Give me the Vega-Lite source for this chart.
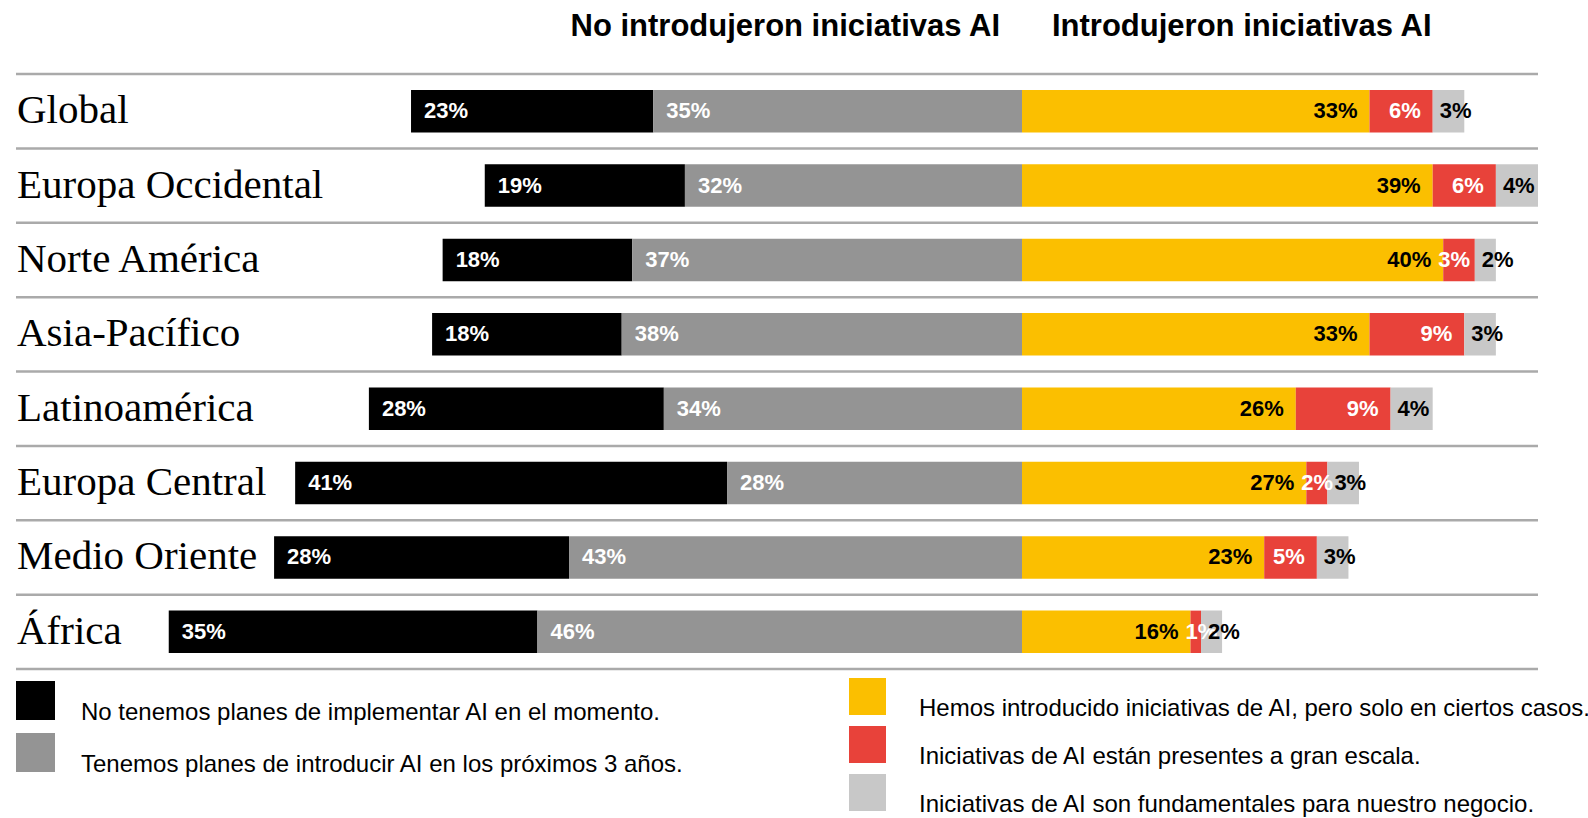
{
  "$schema": "https://vega.github.io/schema/vega-lite/v6.json",
  "padding": {"left": 14, "top": 10, "right": 0, "bottom": 0},
  "autosize": {"type": "pad"},
  "bounds": "flush",
  "background": "white",
  "config": {
    "view": {"stroke": null},
    "concat": {"spacing": 0},
    "title": {"font": "Liberation Sans", "fontSize": 31, "fontWeight": "bold", "color": "#000000", "baseline": "alphabetic", "offset": 30, "frame": "group"}
  },
  "datasets": {
    "d": [
      {"region": "Global", "lado": "izq", "serie": "No tenemos planes de implementar AI en el momento.", "orden": 2, "pct": 0.23},
      {"region": "Global", "lado": "izq", "serie": "Tenemos planes de introducir AI en los próximos 3 años.", "orden": 1, "pct": 0.35},
      {"region": "Global", "lado": "der", "serie": "Hemos introducido iniciativas de AI, pero solo en ciertos casos.", "orden": 3, "pct": 0.33},
      {"region": "Global", "lado": "der", "serie": "Iniciativas de AI están presentes a gran escala.", "orden": 4, "pct": 0.06},
      {"region": "Global", "lado": "der", "serie": "Iniciativas de AI son fundamentales para nuestro negocio.", "orden": 5, "pct": 0.03},
      {"region": "Europa Occidental", "lado": "izq", "serie": "No tenemos planes de implementar AI en el momento.", "orden": 2, "pct": 0.19},
      {"region": "Europa Occidental", "lado": "izq", "serie": "Tenemos planes de introducir AI en los próximos 3 años.", "orden": 1, "pct": 0.32},
      {"region": "Europa Occidental", "lado": "der", "serie": "Hemos introducido iniciativas de AI, pero solo en ciertos casos.", "orden": 3, "pct": 0.39},
      {"region": "Europa Occidental", "lado": "der", "serie": "Iniciativas de AI están presentes a gran escala.", "orden": 4, "pct": 0.06},
      {"region": "Europa Occidental", "lado": "der", "serie": "Iniciativas de AI son fundamentales para nuestro negocio.", "orden": 5, "pct": 0.04},
      {"region": "Norte América", "lado": "izq", "serie": "No tenemos planes de implementar AI en el momento.", "orden": 2, "pct": 0.18},
      {"region": "Norte América", "lado": "izq", "serie": "Tenemos planes de introducir AI en los próximos 3 años.", "orden": 1, "pct": 0.37},
      {"region": "Norte América", "lado": "der", "serie": "Hemos introducido iniciativas de AI, pero solo en ciertos casos.", "orden": 3, "pct": 0.40},
      {"region": "Norte América", "lado": "der", "serie": "Iniciativas de AI están presentes a gran escala.", "orden": 4, "pct": 0.03},
      {"region": "Norte América", "lado": "der", "serie": "Iniciativas de AI son fundamentales para nuestro negocio.", "orden": 5, "pct": 0.02},
      {"region": "Asia-Pacífico", "lado": "izq", "serie": "No tenemos planes de implementar AI en el momento.", "orden": 2, "pct": 0.18},
      {"region": "Asia-Pacífico", "lado": "izq", "serie": "Tenemos planes de introducir AI en los próximos 3 años.", "orden": 1, "pct": 0.38},
      {"region": "Asia-Pacífico", "lado": "der", "serie": "Hemos introducido iniciativas de AI, pero solo en ciertos casos.", "orden": 3, "pct": 0.33},
      {"region": "Asia-Pacífico", "lado": "der", "serie": "Iniciativas de AI están presentes a gran escala.", "orden": 4, "pct": 0.09},
      {"region": "Asia-Pacífico", "lado": "der", "serie": "Iniciativas de AI son fundamentales para nuestro negocio.", "orden": 5, "pct": 0.03},
      {"region": "Latinoamérica", "lado": "izq", "serie": "No tenemos planes de implementar AI en el momento.", "orden": 2, "pct": 0.28},
      {"region": "Latinoamérica", "lado": "izq", "serie": "Tenemos planes de introducir AI en los próximos 3 años.", "orden": 1, "pct": 0.34},
      {"region": "Latinoamérica", "lado": "der", "serie": "Hemos introducido iniciativas de AI, pero solo en ciertos casos.", "orden": 3, "pct": 0.26},
      {"region": "Latinoamérica", "lado": "der", "serie": "Iniciativas de AI están presentes a gran escala.", "orden": 4, "pct": 0.09},
      {"region": "Latinoamérica", "lado": "der", "serie": "Iniciativas de AI son fundamentales para nuestro negocio.", "orden": 5, "pct": 0.04},
      {"region": "Europa Central", "lado": "izq", "serie": "No tenemos planes de implementar AI en el momento.", "orden": 2, "pct": 0.41},
      {"region": "Europa Central", "lado": "izq", "serie": "Tenemos planes de introducir AI en los próximos 3 años.", "orden": 1, "pct": 0.28},
      {"region": "Europa Central", "lado": "der", "serie": "Hemos introducido iniciativas de AI, pero solo en ciertos casos.", "orden": 3, "pct": 0.27},
      {"region": "Europa Central", "lado": "der", "serie": "Iniciativas de AI están presentes a gran escala.", "orden": 4, "pct": 0.02},
      {"region": "Europa Central", "lado": "der", "serie": "Iniciativas de AI son fundamentales para nuestro negocio.", "orden": 5, "pct": 0.03},
      {"region": "Medio Oriente", "lado": "izq", "serie": "No tenemos planes de implementar AI en el momento.", "orden": 2, "pct": 0.28},
      {"region": "Medio Oriente", "lado": "izq", "serie": "Tenemos planes de introducir AI en los próximos 3 años.", "orden": 1, "pct": 0.43},
      {"region": "Medio Oriente", "lado": "der", "serie": "Hemos introducido iniciativas de AI, pero solo en ciertos casos.", "orden": 3, "pct": 0.23},
      {"region": "Medio Oriente", "lado": "der", "serie": "Iniciativas de AI están presentes a gran escala.", "orden": 4, "pct": 0.05},
      {"region": "Medio Oriente", "lado": "der", "serie": "Iniciativas de AI son fundamentales para nuestro negocio.", "orden": 5, "pct": 0.03},
      {"region": "África", "lado": "izq", "serie": "No tenemos planes de implementar AI en el momento.", "orden": 2, "pct": 0.35},
      {"region": "África", "lado": "izq", "serie": "Tenemos planes de introducir AI en los próximos 3 años.", "orden": 1, "pct": 0.46},
      {"region": "África", "lado": "der", "serie": "Hemos introducido iniciativas de AI, pero solo en ciertos casos.", "orden": 3, "pct": 0.16},
      {"region": "África", "lado": "der", "serie": "Iniciativas de AI están presentes a gran escala.", "orden": 4, "pct": 0.01},
      {"region": "África", "lado": "der", "serie": "Iniciativas de AI son fundamentales para nuestro negocio.", "orden": 5, "pct": 0.02}
    ]
  },
  "resolve": {"scale": {"color": "independent", "x": "independent"}, "legend": {"color": "independent"}},
  "hconcat": [
    {
      "width": 1006,
      "height": 595,
      "title": {"text": "No introdujeron iniciativas AI", "anchor": "end", "dx": -22},
      "data": {"name": "d"},
      "transform": [
        {"filter": "datum.lado == 'izq'"},
        {"stack": "pct", "groupby": ["region"], "sort": [{"field": "orden"}], "as": ["p0", "p1"], "offset": "zero"}
      ],
      "encoding": {
        "y": {"field": "region", "type": "nominal", "sort": ["Global", "Europa Occidental", "Norte América", "Asia-Pacífico", "Latinoamérica", "Europa Central", "Medio Oriente", "África"], "scale": {"paddingInner": 0, "paddingOuter": 0}, "axis": null}
      },
      "layer": [
        {
          "transform": [{"filter": "datum.orden == 1"}],
          "mark": {"type": "rule", "color": "#aaaaaa", "strokeWidth": 2.5},
          "encoding": {"y": {"field": "region", "type": "nominal", "bandPosition": 0, "sort": ["Global", "Europa Occidental", "Norte América", "Asia-Pacífico", "Latinoamérica", "Europa Central", "Medio Oriente", "África"]}}
        },
        {
          "transform": [{"filter": "datum.orden == 1 && datum.region == 'África'"}],
          "mark": {"type": "rule", "color": "#aaaaaa", "strokeWidth": 2.5},
          "encoding": {"y": {"field": "region", "type": "nominal", "bandPosition": 1, "sort": ["Global", "Europa Occidental", "Norte América", "Asia-Pacífico", "Latinoamérica", "Europa Central", "Medio Oriente", "África"]}}
        },
        {
          "mark": {"type": "bar", "height": {"band": 0.57}},
          "encoding": {
            "x": {"field": "p0", "type": "quantitative", "scale": {"domain": [0, 0.955], "reverse": true, "nice": false, "zero": false}, "axis": null},
            "x2": {"field": "p1"},
            "color": {
              "field": "serie", "type": "nominal",
              "scale": {"domain": ["No tenemos planes de implementar AI en el momento.", "Tenemos planes de introducir AI en los próximos 3 años."], "range": ["#000000", "#949494"]},
              "legend": {"orient": "none", "legendX": 0, "legendY": 607, "title": null, "symbolType": "square", "symbolSize": 1521, "symbolStrokeWidth": 0, "symbolOpacity": 1, "labelFont": "Liberation Sans", "labelFontSize": 24, "labelColor": "#000000", "labelOffset": 26, "rowPadding": 8, "labelBaseline": "top", "labelLimit": 900, "padding": 0}
            }
          }
        },
        {
          "mark": {"type": "text", "align": "left", "baseline": "middle", "dx": 13, "color": "#ffffff", "font": "Liberation Sans", "fontWeight": "bold", "fontSize": 22},
          "encoding": {
            "x": {"field": "p1", "type": "quantitative"},
            "text": {"field": "pct", "type": "quantitative", "format": ".0%"}
          }
        },
        {
          "transform": [{"filter": "datum.orden == 1"}],
          "mark": {"type": "text", "align": "left", "baseline": "middle", "dx": 1, "font": "Liberation Serif", "fontSize": 41, "color": "#000000"},
          "encoding": {
            "x": {"datum": 0.955, "type": "quantitative"},
            "text": {"field": "region", "type": "nominal"}
          }
        }
      ]
    },
    {
      "width": 516,
      "height": 595,
      "title": {"text": "Introdujeron iniciativas AI", "anchor": "start", "dx": 30},
      "data": {"name": "d"},
      "transform": [
        {"filter": "datum.lado == 'der'"},
        {"stack": "pct", "groupby": ["region"], "sort": [{"field": "orden"}], "as": ["p0", "p1"], "offset": "zero"}
      ],
      "encoding": {
        "y": {"field": "region", "type": "nominal", "sort": ["Global", "Europa Occidental", "Norte América", "Asia-Pacífico", "Latinoamérica", "Europa Central", "Medio Oriente", "África"], "scale": {"paddingInner": 0, "paddingOuter": 0}, "axis": null}
      },
      "layer": [
        {
          "transform": [{"filter": "datum.orden == 3"}],
          "mark": {"type": "rule", "color": "#aaaaaa", "strokeWidth": 2.5},
          "encoding": {"y": {"field": "region", "type": "nominal", "bandPosition": 0, "sort": ["Global", "Europa Occidental", "Norte América", "Asia-Pacífico", "Latinoamérica", "Europa Central", "Medio Oriente", "África"]}}
        },
        {
          "transform": [{"filter": "datum.orden == 3 && datum.region == 'África'"}],
          "mark": {"type": "rule", "color": "#aaaaaa", "strokeWidth": 2.5},
          "encoding": {"y": {"field": "region", "type": "nominal", "bandPosition": 1, "sort": ["Global", "Europa Occidental", "Norte América", "Asia-Pacífico", "Latinoamérica", "Europa Central", "Medio Oriente", "África"]}}
        },
        {
          "mark": {"type": "bar", "height": {"band": 0.57}},
          "encoding": {
            "x": {"field": "p0", "type": "quantitative", "scale": {"domain": [0, 0.49], "nice": false}, "axis": null},
            "x2": {"field": "p1"},
            "color": {
              "field": "serie", "type": "nominal",
              "scale": {"domain": ["Hemos introducido iniciativas de AI, pero solo en ciertos casos.", "Iniciativas de AI están presentes a gran escala.", "Iniciativas de AI son fundamentales para nuestro negocio."], "range": ["#fbbf00", "#e8423a", "#c8c8c8"]},
              "legend": {"orient": "none", "legendX": -173, "legendY": 604, "title": null, "symbolType": "square", "symbolSize": 1369, "symbolStrokeWidth": 0, "symbolOpacity": 1, "labelFont": "Liberation Sans", "labelFontSize": 24, "labelColor": "#000000", "labelOffset": 33, "rowPadding": 5, "labelBaseline": "top", "labelLimit": 900, "padding": 0}
            }
          }
        },
        {
          "transform": [{"filter": "datum.orden == 3 || (datum.orden == 4 && datum.pct >= 0.05)"}],
          "mark": {"type": "text", "align": "right", "baseline": "middle", "dx": -12, "font": "Liberation Sans", "fontWeight": "bold", "fontSize": 22},
          "encoding": {
            "x": {"field": "p1", "type": "quantitative"},
            "text": {"field": "pct", "type": "quantitative", "format": ".0%"},
            "color": {"condition": {"test": "datum.orden == 4", "value": "#ffffff"}, "value": "#000000"}
          }
        },
        {
          "transform": [{"filter": "datum.orden == 4 && datum.pct < 0.05"}],
          "mark": {"type": "text", "align": "left", "baseline": "middle", "dx": -5, "color": "#ffffff", "font": "Liberation Sans", "fontWeight": "bold", "fontSize": 22},
          "encoding": {
            "x": {"field": "p0", "type": "quantitative"},
            "text": {"field": "pct", "type": "quantitative", "format": ".0%"}
          }
        },
        {
          "transform": [{"filter": "datum.orden == 5"}],
          "mark": {"type": "text", "align": "left", "baseline": "middle", "dx": 7, "color": "#000000", "font": "Liberation Sans", "fontWeight": "bold", "fontSize": 22},
          "encoding": {
            "x": {"field": "p0", "type": "quantitative"},
            "text": {"field": "pct", "type": "quantitative", "format": ".0%"}
          }
        },
        {
          "transform": [{"filter": "datum.orden == 3 && datum.region == 'Global'"}],
          "mark": {"type": "rule", "color": "#000000", "strokeWidth": 1.2},
          "encoding": {"x": {"datum": 0, "type": "quantitative"}}
        }
      ]
    }
  ]
}
